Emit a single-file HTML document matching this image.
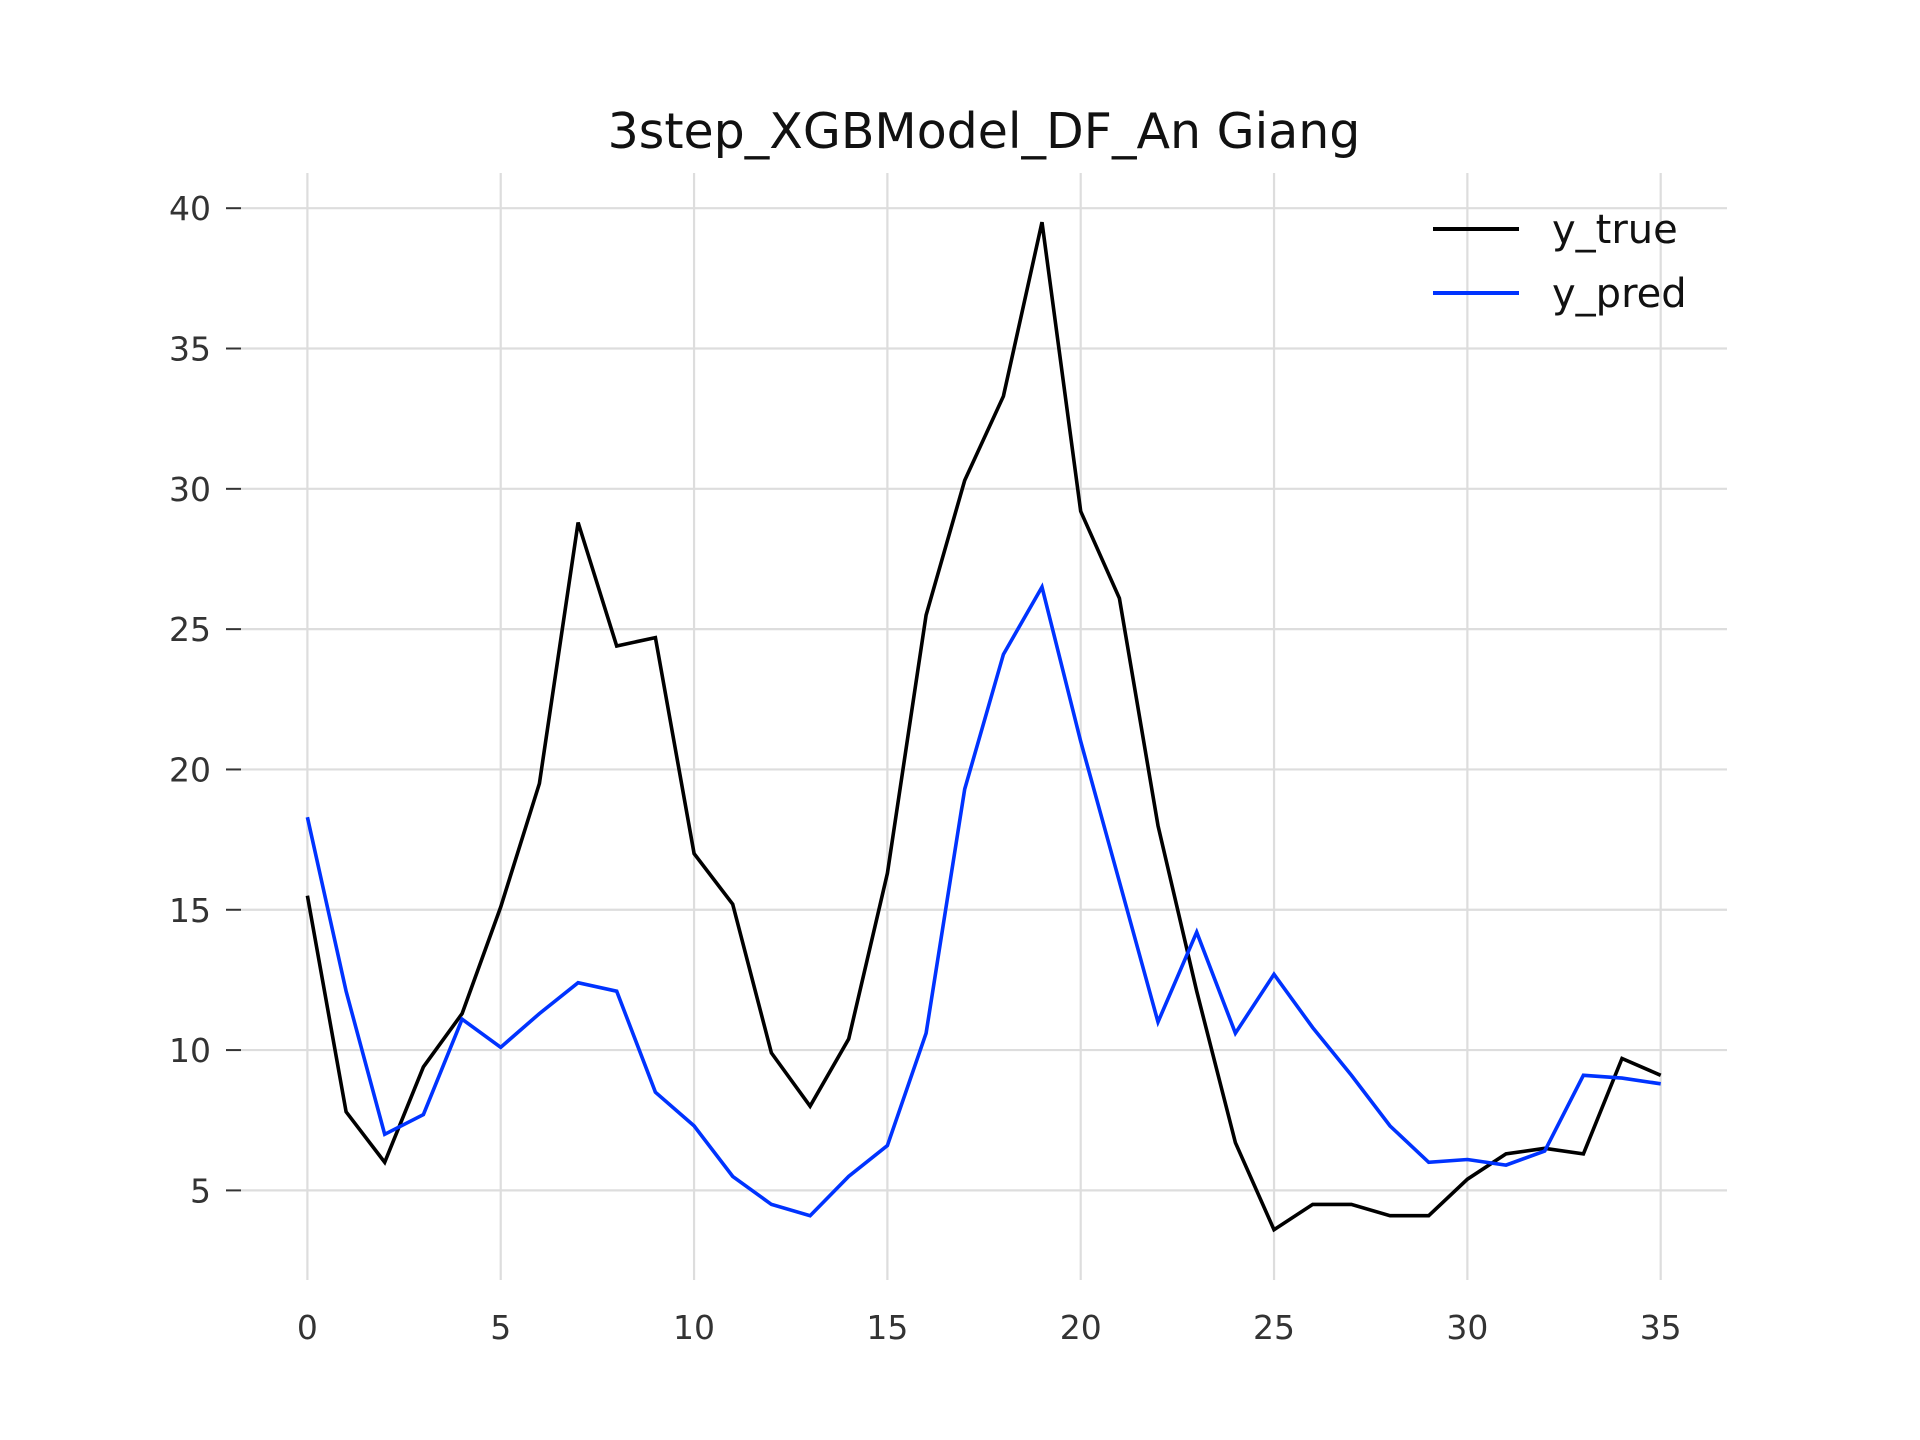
<!DOCTYPE html>
<html><head><meta charset="utf-8"><style>
html,body{margin:0;padding:0;background:#fff;}
svg{display:block;font-family:"DejaVu Sans","Liberation Sans",sans-serif;}
</style></head><body>
<svg id="chart" width="1920" height="1440" viewBox="0 0 1920 1440">
<g id="grid"></g>
<g id="axes"></g>
<g id="series"></g>
<text x="984" y="148" text-anchor="middle" font-size="49" fill="#111">3step_XGBModel_DF_An Giang</text>
<g>
<line x1="1433" y1="229" x2="1519" y2="229" stroke="#000" stroke-width="4"/>
<text x="1552" y="243" font-size="40" fill="#111">y_true</text>
<line x1="1433" y1="293" x2="1519" y2="293" stroke="#0033ff" stroke-width="4"/>
<text x="1552" y="307" font-size="40" fill="#111">y_pred</text>
</g>
</svg>
<script>
const xValues = [0,1,2,3,4,5,6,7,8,9,10,11,12,13,14,15,16,17,18,19,20,21,22,23,24,25,26,27,28,29,30,31,32,33,34,35];
const yTrue = [15.5,7.8,6.0,9.4,11.3,15.1,19.5,28.8,24.4,24.7,17.0,15.2,9.9,8.0,10.4,16.3,25.5,30.3,33.3,39.5,29.2,26.1,18.0,12.1,6.7,3.6,4.5,4.5,4.1,4.1,5.4,6.3,6.5,6.3,9.7,9.1];
const yPred = [18.3,12.1,7.0,7.7,11.1,10.1,11.3,12.4,12.1,8.5,7.3,5.5,4.5,4.1,5.5,6.6,10.6,19.3,24.1,26.5,21.0,16.0,11.0,14.2,10.6,12.7,10.8,9.1,7.3,6.0,6.1,5.9,6.4,9.1,9.0,8.8];
const xTicks = [0,5,10,15,20,25,30,35];
const yTicks = [5,10,15,20,25,30,35,40];

const NS = "http://www.w3.org/2000/svg";
function sx(v){ return 307.4 + v * (1660.7 - 307.4) / 35; }
function sy(v){ return 1190.4 - (v - 5) * (1190.4 - 208.2) / 35; }
const L = 241, R = 1727, T = 173, B = 1280;
function mk(tag, attrs, parent){
  const e = document.createElementNS(NS, tag);
  for (const k in attrs) e.setAttribute(k, attrs[k]);
  parent.appendChild(e); return e;
}
const grid = document.getElementById('grid');
const axes = document.getElementById('axes');
const series = document.getElementById('series');
xTicks.forEach(t => {
  const g = mk('line', {x1: sx(t), x2: sx(t), y1: T, y2: B, stroke: '#dddddd', 'stroke-width': 2.2}, grid);
  
  
  const tx = mk('text', {x: sx(t), y: 1339, 'text-anchor': 'middle', 'font-size': 33, fill: '#333'}, axes);
  tx.textContent = t;
  
  
});
yTicks.forEach(t => {
  const g = mk('line', {x1: L, x2: R, y1: sy(t), y2: sy(t), stroke: '#dddddd', 'stroke-width': 2.2}, grid);
  
  
  const tk = mk('line', {x1: 226, x2: 241, y1: sy(t), y2: sy(t), stroke: '#333', 'stroke-width': 2}, axes);
  
  
  const tx = mk('text', {x: 211, y: sy(t) + 12, 'text-anchor': 'end', 'font-size': 33, fill: '#333'}, axes);
  tx.textContent = t;
  
  
});
function drawLine(vals, color, name){
  const pts = vals.map((v, i) => sx(xValues[i]).toFixed(1) + ',' + sy(v).toFixed(1)).join(' ');
  const p = mk('polyline', {points: pts, fill: 'none', stroke: color, 'stroke-width': 3.6, 'stroke-linejoin': 'miter'}, series);
  
  
}
drawLine(yTrue, '#000000', 'y-true-line');
drawLine(yPred, '#0033ff', 'y-pred-line');
</script>
</body></html>
